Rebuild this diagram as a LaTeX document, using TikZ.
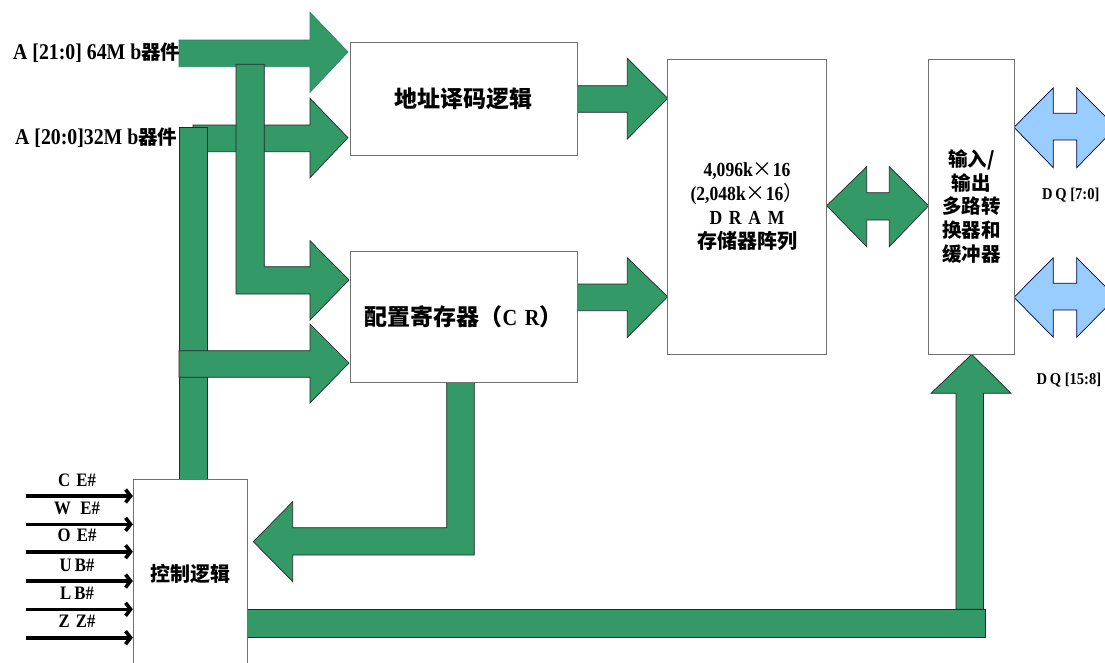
\documentclass[tikz,border=0pt]{standalone}
\usepackage{fontspec}
\setmainfont{Liberation Serif}
\newfontfamily\cjk{Noto Sans CJK SC}
\newfontfamily\cond[FakeStretch=0.88]{Liberation Serif}
\usetikzlibrary{arrows.meta,calc}
\definecolor{busgreen}{RGB}{51,153,102}
\definecolor{dqblue}{RGB}{153,204,255}
\definecolor{boxgray}{RGB}{112,112,112}
\definecolor{tealedge}{RGB}{40,130,120}
\tikzset{
  bus/.style={fill=busgreen,draw=black!85,line width=0.7pt,line join=miter},
  dqbus/.style={fill=dqblue,draw=black!75!blue,line width=0.7pt,line join=miter},
  blk/.style={draw=boxgray,fill=white,line width=0.9pt,inner sep=0pt,align=center},
  sig/.style={line width=3.6pt,-{Straight Barb[length=5pt,width=13pt]}},
  siglbl/.style={font=\cond\bfseries\fontsize{19}{20}\selectfont,inner sep=0pt},
  addrlbl/.style={font=\cond\bfseries\fontsize{22.5}{24}\selectfont,inner sep=0pt,anchor=west},
  dqlbl/.style={font=\cond\bfseries\fontsize{16.5}{18}\selectfont,inner sep=0pt,anchor=west},
}
\begin{document}
\begin{tikzpicture}[x=1pt,y=-1pt]
\useasboundingbox (0,0) rectangle (1105,662);
\fill[white] (0,0) rectangle (1105,662);

% ---------- address input buses ----------
\draw[bus,draw=tealedge] (179,40) -- (310,40) -- (310,12.3) -- (348,52) -- (310,92.3) -- (310,66.7) -- (179,66.7) -- cycle;
\draw[bus] (193,125) -- (310,125) -- (310,98.3) -- (348,137.7) -- (310,177.7) -- (310,151.7) -- (193,151.7) -- cycle;
% bar down to control logic
\draw[bus] (179,127) rectangle (207.7,479);
% L-shaped bus to CR (upper)
\draw[bus] (236,64.3) -- (264.3,64.3) -- (264.3,266.7) -- (310,266.7) -- (310,240.7) -- (349,280) -- (310,320) -- (310,294) -- (236,294) -- cycle;
% bus to CR (lower)
\draw[bus] (179,350.7) -- (310,350.7) -- (310,324) -- (349,363) -- (310,403) -- (310,377.3) -- (179,377.3) -- cycle;

% ---------- to DRAM ----------
\draw[bus] (577.3,85.7) -- (627.3,85.7) -- (627.3,58.3) -- (667.7,98.3) -- (627.3,139) -- (627.3,112.3) -- (577.3,112.3) -- cycle;
\draw[bus] (577.3,284) -- (627.3,284) -- (627.3,257.7) -- (667.7,296.7) -- (627.3,337.3) -- (627.3,310.7) -- (577.3,310.7) -- cycle;

% ---------- DRAM <-> I/O ----------
\draw[bus] (826.7,205.7) -- (866.7,166.7) -- (866.7,192.7) -- (889.3,192.7) -- (889.3,166.7) -- (928.7,205.7) -- (889.3,246.7) -- (889.3,220) -- (866.7,220) -- (866.7,246.7) -- cycle;

% ---------- DQ buses ----------
\draw[dqbus] (1014,127.3) -- (1053.3,87.7) -- (1053.3,113.3) -- (1076.7,113.3) -- (1076.7,87.7) -- (1116,127.3) -- (1076.7,167.7) -- (1076.7,140) -- (1053.3,140) -- (1053.3,167.7) -- cycle;
\draw[dqbus] (1014,297.3) -- (1053.3,257.7) -- (1053.3,283.3) -- (1076.7,283.3) -- (1076.7,257.7) -- (1116,297.3) -- (1076.7,337.3) -- (1076.7,310) -- (1053.3,310) -- (1053.3,337.3) -- cycle;

% ---------- CR feedback to control logic ----------
\draw[bus] (446.7,382) -- (474.3,382) -- (474.3,555) -- (292.7,555) -- (292.7,581.7) -- (253.3,541.7) -- (292.7,501.7) -- (292.7,527.7) -- (446.7,527.7) -- cycle;

% ---------- control to I/O ----------
\draw[bus] (956,609.3) -- (956,393.3) -- (931,393.3) -- (971.7,354.3) -- (1011,393.3) -- (983.5,393.3) -- (983.5,609.3) -- cycle;
\draw[bus] (247.3,609.3) rectangle (985.7,637.7);

% ---------- blocks ----------
\node[blk,minimum width=227pt,minimum height=113.5pt,font=\cjk\bfseries\fontsize{23}{26}\selectfont] (addr) at (463.5,98.75)
  {地址译码逻辑};
\node[blk,minimum width=227pt,minimum height=130.5pt,font=\fontsize{23}{26}\selectfont] (cr) at (463.5,317)
  {{\cjk\bfseries 配置寄存器（}{\cond\bfseries C\,\,R}{\cjk\bfseries ）}};
\node[blk,minimum width=159.5pt,minimum height=295pt,font=\fontsize{20}{24}\selectfont] (dram) at (747,206.5)
  {{\cond\bfseries 4,096k}{\cjk ×}{\cond\bfseries 16}\\
   {\cond\bfseries (2,048k}{\cjk ×}{\cond\bfseries 16}{\cjk ）}\\
   {\cond\bfseries D\,\,R\,\,A\,\,M}\\
   {\cjk\bfseries 存储器阵列}};
\node[blk,minimum width=85.3pt,minimum height=295pt,font=\cjk\bfseries\fontsize{19.5}{23.7}\selectfont] (io) at (971.3,206.5)
  {输入/\\输出\\多路转\\换器和\\缓冲器};
\node[blk,minimum width=114pt,minimum height=191pt,font=\cjk\bfseries\fontsize{20}{22}\selectfont] (ctrl) at (190.3,574.5)
  {\raisebox{2.5pt}{控制逻辑}};

% ---------- labels ----------
\node[addrlbl] (la21) at (13,53) {A [21:0] 64M b{\cjk\bfseries\fontsize{19.5}{20}\selectfont 器件}};
\node[addrlbl] (la20) at (15,138) {A [20:0]32M b{\cjk\bfseries\fontsize{19.5}{20}\selectfont 器件}};
\node[dqlbl] (ldq1) at (1042,195) {D\,Q [7:0]};
\node[dqlbl] (ldq2) at (1036.5,380) {D\,Q [15:8]};

% ---------- control signals ----------
\foreach \nm/\yy/\txt in {ce/496/C\,\,E\#, we/524.3/W\,\,\,E\#, oe/551.7/O\,\,E\#, ub/581/U\,B\#, lb/609.3/L\,B\#, zz/637.7/Z\,\,Z\#}{
  \coordinate (s\nm) at (26,\yy);
  \draw[sig] (s\nm) -- (s\nm -| ctrl.west);
  \node[siglbl] (l\nm) at (77,\yy-16) {\txt};
}
\end{tikzpicture}
\end{document}
